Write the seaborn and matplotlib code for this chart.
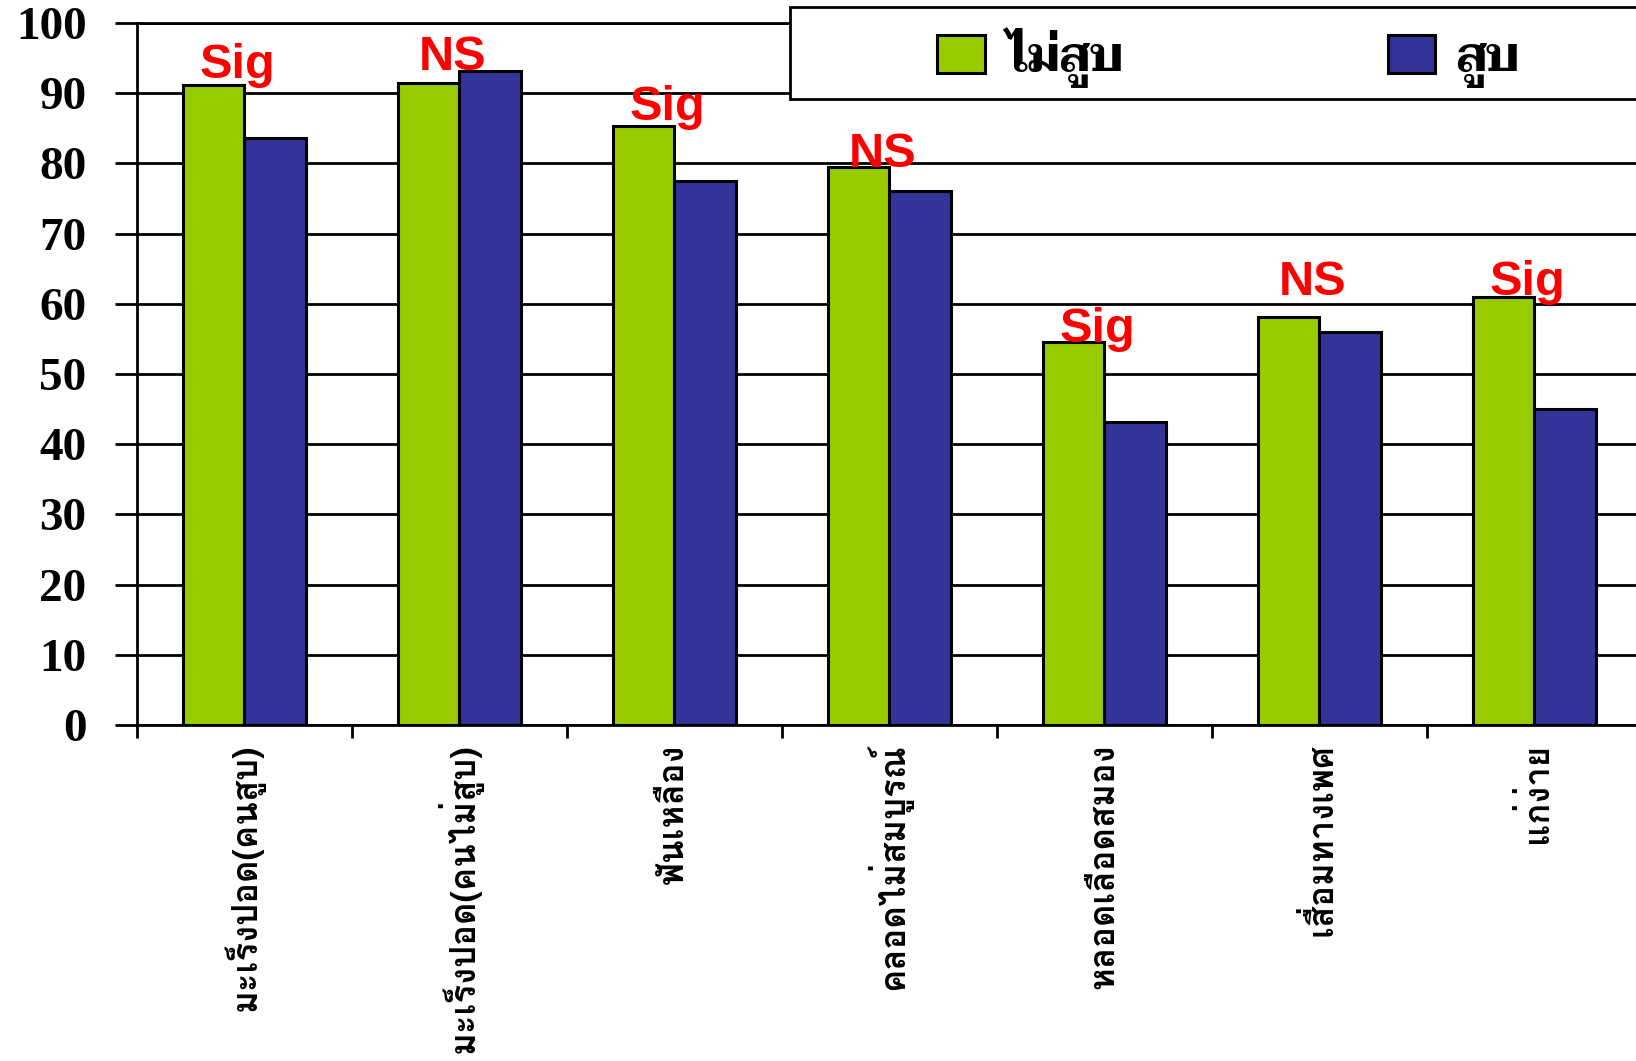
import numpy as np
import pandas as pd
import matplotlib
matplotlib.use("Agg")
import matplotlib.pyplot as plt
import seaborn as sns
from matplotlib import font_manager
from matplotlib.ft2font import FT2Font
from matplotlib.patches import Rectangle

# ─── Data ───────────────────────────────────────────────────────────────────
categories = [
    "มะเร็งปอด(คนสูบ)",
    "มะเร็งปอด(คนไม่สูบ)",
    "ฟันเหลือง",
    "คลอดไม่สมบูรณ์",
    "หลอดเลือดสมอง",
    "เสื่อมทางเพศ",
    "แก่ง่าย",
]
groups = ["ไม่สูบ", "สูบ"]
non_smoker = [91.1, 91.4, 85.3, 79.5, 54.5, 58.1, 61.0]
smoker = [83.6, 93.2, 77.5, 76.0, 43.1, 56.0, 45.0]
significance = ["Sig", "NS", "Sig", "NS", "Sig", "NS", "Sig"]
sig_level = [92.1, 93.3, 86.2, 79.5, 54.5, 61.2, 61.2]
y_ticks = list(range(0, 101, 10))

colors = {"ไม่สูบ": "#99CC00", "สูบ": "#333399"}


def thai_fonts():
    """Return {name: set of weights} for installed fonts that carry Thai glyphs."""
    found = {}
    for f in font_manager.fontManager.ttflist:
        try:
            if 0x0E2A in FT2Font(f.fname).get_charmap():
                found.setdefault(f.name, set()).add(f.weight)
        except Exception:
            continue
    return found


thai = thai_fonts()
label_font = "Loma" if "Loma" in thai else "DejaVu Sans"

# serif Thai with a real bold face for the legend (closest to Angsana)
legend_font = label_font
for name in ["Taviraj", "Pridi", "Trirong", "Noto Serif Thai"]:
    weights = thai.get(name, set())
    if any(isinstance(w, int) and w >= 600 or w == "bold" for w in weights):
        legend_font = name
        break

df = pd.DataFrame({
    "category": categories * 2,
    "group": [groups[0]] * len(categories) + [groups[1]] * len(categories),
    "value": non_smoker + smoker,
})

sns.set_theme(style="white")
plt.rcParams["font.family"] = [label_font, "DejaVu Sans"]
plt.rcParams["text.color"] = "black"
plt.rcParams["xtick.color"] = "black"
plt.rcParams["ytick.color"] = "black"

fig = plt.figure(figsize=(16.36, 10.61), dpi=100)
ax = fig.add_axes([0.0835, 0.3166, 0.92, 0.6618])

sns.barplot(
    data=df, x="category", y="value", hue="group",
    order=categories, hue_order=groups, palette=colors,
    width=0.573, gap=0, saturation=1,
    edgecolor="black", linewidth=2.2, ax=ax, zorder=3,
)

ax.set_xlim(-0.5, 6.5)
ax.set_ylim(0, 100)
ax.set_yticks(y_ticks)
ax.set_xlabel("")
ax.set_ylabel("")
ax.yaxis.grid(True, color="black", linewidth=2)
ax.set_axisbelow(True)

for side in ["left", "bottom", "top"]:
    ax.spines[side].set_color("black")
    ax.spines[side].set_linewidth(2)
ax.spines["right"].set_visible(False)

# y ticks: bold serif numbers
ax.tick_params(axis="y", direction="out", length=16, width=2, pad=20, left=True)
for lab in ax.get_yticklabels():
    lab.set_fontfamily("Liberation Serif")
    lab.set_fontweight("bold")
    lab.set_fontsize(34)

# x ticks: labels at centres, tick marks between categories
ax.set_xticks(range(len(categories)))
ax.set_xticklabels(categories, rotation=90, fontsize=25, fontweight="bold",
                   va="top", ha="center")
ax.tick_params(axis="x", which="major", length=0, pad=13)
ax.set_xticks(np.arange(-0.5, len(categories), 1.0), minor=True)
ax.tick_params(axis="x", which="minor", direction="out", length=9, width=2, bottom=True)

# significance marks
for i, (txt, lvl) in enumerate(zip(significance, sig_level)):
    ax.text(i - 0.03, lvl, txt, color="red", fontsize=35, fontweight="bold",
            family="Liberation Sans", ha="center", va="baseline", zorder=5)

# legend in a box running off the right edge
handles, labels = ax.get_legend_handles_labels()
ax.get_legend().remove()
fig.patches.append(Rectangle((0.483, 0.9066), 0.6, 0.0865, transform=fig.transFigure,
                             fill=True, facecolor="white", edgecolor="black",
                             linewidth=2, zorder=10))
leg = fig.legend(handles, labels, loc="center left", bbox_to_anchor=(0.547, 0.946),
                 ncol=2, frameon=False,
                 prop={"family": legend_font, "size": 34, "weight": "bold"},
                 handlelength=1.0, handleheight=0.85, handletextpad=0.45,
                 columnspacing=5.6)
leg.set_zorder(11)

fig.savefig("out.png", dpi=100)
